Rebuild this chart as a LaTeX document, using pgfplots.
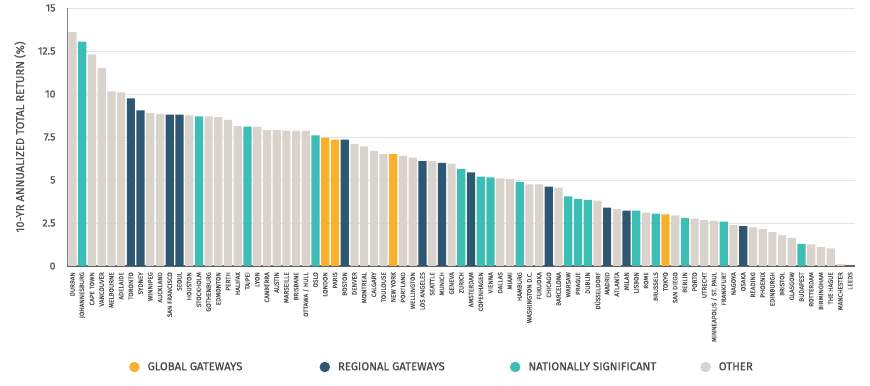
\documentclass[border=0pt]{standalone}
\usepackage{fontspec}
\setmainfont{Fira Sans}[FakeBold=0.6]
\usepackage{pgfplots}
\pgfplotsset{compat=1.18}
\usepackage{pgfplotstable}
\definecolor{cglobal}{RGB}{251,176,45}
\definecolor{cregional}{RGB}{46,88,114}
\definecolor{cnational}{RGB}{60,190,180}
\definecolor{cother}{RGB}{217,211,203}
\definecolor{txtgray}{RGB}{80,80,80}
\pgfplotstableread[col sep=comma]{
idx,val,cat,city
0,13.6,3,DURBAN
1,13.05,2,JOHANNESBURG
2,12.3,3,CAPE TOWN
3,11.5,3,VANCOUVER
4,10.15,3,MELBOURNE
5,10.1,3,ADELAIDE
6,9.75,1,TORONTO
7,9.05,1,SYDNEY
8,8.9,3,WINNIPEG
9,8.85,3,AUCKLAND
10,8.8,1,SAN FRANCISCO
11,8.8,1,SEOUL
12,8.75,3,HOUSTON
13,8.7,2,STOCKHOLM
14,8.7,3,GOTHENBURG
15,8.65,3,EDMONTON
16,8.5,3,PERTH
17,8.15,3,HALIFAX
18,8.1,2,TAIPEI
19,8.1,3,LYON
20,7.9,3,CANBERRA
21,7.9,3,AUSTIN
22,7.87,3,MARSEILLE
23,7.85,3,BRISBANE
24,7.85,3,OTTAWA / HULL
25,7.6,2,OSLO
26,7.45,0,LONDON
27,7.35,0,PARIS
28,7.35,1,BOSTON
29,7.1,3,DENVER
30,6.95,3,MONTREAL
31,6.7,3,CALGARY
32,6.5,3,TOULOUSE
33,6.5,0,NEW YORK
34,6.4,3,PORTLAND
35,6.3,3,WELLINGTON
36,6.1,1,LOS ANGELES
37,6.1,3,SEATTLE
38,6.0,1,MUNICH
39,5.95,3,GENEVA
40,5.65,2,ZURICH
41,5.45,1,AMSTERDAM
42,5.2,2,COPENHAGEN
43,5.15,2,VIENNA
44,5.1,3,DALLAS
45,5.05,3,MIAMI
46,4.87,2,HAMBURG
47,4.75,3,WASHINGTON D.C.
48,4.75,3,FUKUOKA
49,4.62,1,CHICAGO
50,4.56,3,BARCELONA
51,4.05,2,WARSAW
52,3.9,2,PRAGUE
53,3.85,2,DUBLIN
54,3.8,3,DÜSSELDORF
55,3.4,1,MADRID
56,3.3,3,ATLANTA
57,3.22,1,MILAN
58,3.22,2,LISBON
59,3.1,3,ROME
60,3.05,2,BRUSSELS
61,3.0,0,TOKYO
62,2.95,3,SAN DIEGO
63,2.8,2,BERLIN
64,2.76,3,PORTO
65,2.67,3,UTRECHT
66,2.62,3,MINNEAPOLIS / ST. PAUL
67,2.58,2,FRANKFURT
68,2.38,3,NAGOYA
69,2.32,1,OSAKA
70,2.25,3,READING
71,2.15,3,PHOENIX
72,1.97,3,EDINBURGH
73,1.78,3,BRISTOL
74,1.63,3,GLASGOW
75,1.28,2,BUDAPEST
76,1.25,3,ROTTERDAM
77,1.1,3,BIRMINGHAM
78,1.03,3,THE HAGUE
79,0.12,3,MANCHESTER
80,0.0,3,LEEDS
}\data

\begin{document}
\begin{tikzpicture}
\path[use as bounding box] (0,0) rectangle (870bp,386bp);
\begin{axis}[
  at={(67bp,120bp)}, anchor=south west,
  scale only axis, width=788bp, height=258bp,
  xmin=-0.57, xmax=80.5, ymin=0, ymax=15,
  ytick={0,2.5,5,7.5,10,12.5,15},
  xtick={0,...,80},
  xticklabels from table={\data}{city},
  major tick length=0pt,
  axis x line*=bottom, axis y line*=left,
  axis line style={-},
  x axis line style={draw=black!62, line width=1.1pt},
  y axis line style={draw=black!50, line width=0.8pt},
  ymajorgrids, grid style={draw=black!11, line width=0.6pt},
  /pgf/number format/assume math mode=true,
  xticklabel style={rotate=90, anchor=east, font=\fontsize{6.4}{6.4}\selectfont, text=txtgray, inner sep=0pt},
  xticklabel shift=6bp,
  yticklabel style={font=\fontsize{10.5}{10.5}\selectfont, text=txtgray},
  yticklabel shift=8bp,
  ylabel={10-YR ANNUALIZED TOTAL RETURN (\%)},
  every axis y label/.style={at={(axis description cs:-0.0596,0.5)}, rotate=90, anchor=center, font=\fontsize{11.3}{11.5}\selectfont, text=txtgray},
  legend columns=4,
  legend style={at={(0.0787,-0.3915)}, anchor=west, draw=none, fill=none, inner sep=0pt,
    font=\fontsize{11.4}{11.5}\selectfont, text=black!72,
    nodes={inner sep=0pt},
    /tikz/every odd column/.append style={column sep=8bp}},
  legend cell align=left,
]
\addplot[ybar, bar width=8.2bp, bar shift=0pt, fill=cother, draw=none, forget plot,
  restrict expr to domain={\thisrow{cat}}{3:3}] table[x=idx,y=val]{\data};
\addplot[ybar, bar width=8.2bp, bar shift=0pt, fill=cnational, draw=none, forget plot,
  restrict expr to domain={\thisrow{cat}}{2:2}] table[x=idx,y=val]{\data};
\addplot[ybar, bar width=8.2bp, bar shift=0pt, fill=cregional, draw=none, forget plot,
  restrict expr to domain={\thisrow{cat}}{1:1}] table[x=idx,y=val]{\data};
\addplot[ybar, bar width=8.2bp, bar shift=0pt, fill=cglobal, draw=none, forget plot,
  restrict expr to domain={\thisrow{cat}}{0:0}] table[x=idx,y=val]{\data};

\addlegendimage{legend image code/.code={\fill[cglobal] (0bp,0bp) circle (5bp);}}
\addlegendentry{\makebox[172bp][l]{GLOBAL GATEWAYS}}
\addlegendimage{legend image code/.code={\fill[cregional] (0bp,0bp) circle (5bp);}}
\addlegendentry{\makebox[172bp][l]{REGIONAL GATEWAYS}}
\addlegendimage{legend image code/.code={\fill[cnational] (0bp,0bp) circle (5bp);}}
\addlegendentry{\makebox[172bp][l]{NATIONALLY SIGNIFICANT}}
\addlegendimage{legend image code/.code={\fill[cother] (0bp,0bp) circle (5bp);}}
\addlegendentry{\makebox[40bp][l]{OTHER}}
\end{axis}
\end{tikzpicture}
\end{document}
